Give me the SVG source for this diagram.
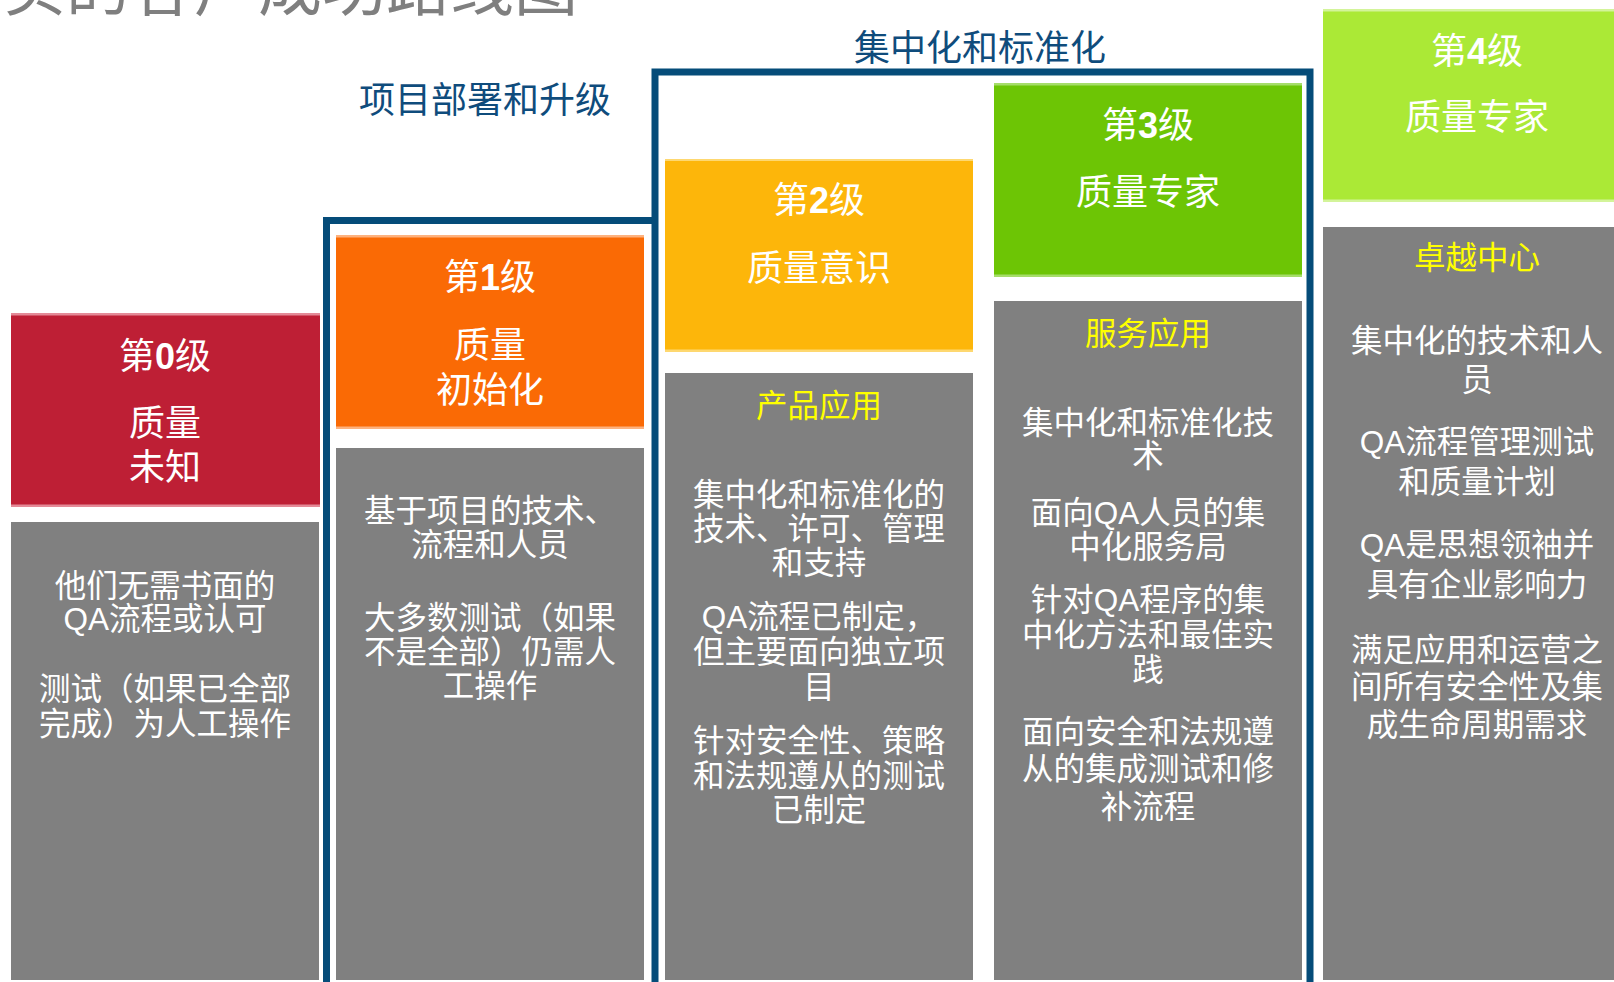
<svg xmlns="http://www.w3.org/2000/svg" width="1614" height="982" viewBox="0 0 1614 982">
<style>
text{font-family:"Liberation Sans","Noto Sans CJK SC",sans-serif;}
.title{font-size:64px;fill:#7f7f7f;}
.phase{font-size:36px;fill:#0f4c7c;text-anchor:middle;}
.lvl{font-size:36px;fill:#ffffff;text-anchor:middle;}
.lvl tspan.d{font-weight:bold;}
.body{font-size:31.5px;fill:#ffffff;text-anchor:middle;}
.hd{font-size:31.5px;fill:#ffff00;text-anchor:middle;}
.gray{fill:#808080;}
.frame{fill:none;stroke:#054c79;stroke-width:7;}
</style>
<rect width="1614" height="982" fill="#ffffff"/>
<text class="title" x="2" y="10">实的客户成功路线图</text>
<text class="phase" x="485" y="112.7">项目部署和升级</text>
<text class="phase" x="980" y="60.7">集中化和标准化</text>

<g id="connectors">
<path class="frame" d="M326.5 982 V220.5 H655"/>
<path class="frame" d="M655 982 V72 H1310 V982"/>
</g>

<g id="level0">
<rect x="11" y="313" width="309" height="194" fill="#be1f35"/>
<rect x="11" y="313" width="309" height="2.5" fill="#e48a97"/>
<rect x="11" y="504.5" width="309" height="2.5" fill="#e48a97"/>
<text class="lvl" x="165" y="368.7">第<tspan class="d">0</tspan>级</text>
<text class="lvl" x="165" y="435.7">质量</text>
<text class="lvl" x="165" y="479.7">未知</text>
</g>
<g id="desc0">
<rect class="gray" x="11" y="522" width="308" height="458"/>
<text class="body" x="165" y="597">他们无需书面的</text>
<text class="body" x="165" y="630">QA流程或认可</text>
<text class="body" x="165" y="700">测试（如果已全部</text>
<text class="body" x="165" y="735">完成）为人工操作</text>
</g>

<g id="level1">
<rect x="336" y="235" width="308" height="194" fill="#fa6a05"/>
<rect x="336" y="235" width="308" height="2.5" fill="#fdb27f"/>
<rect x="336" y="426.5" width="308" height="2.5" fill="#fdb27f"/>
<text class="lvl" x="490" y="289.7">第<tspan class="d">1</tspan>级</text>
<text class="lvl" x="490" y="357.7">质量</text>
<text class="lvl" x="490" y="402.7">初始化</text>
</g>
<g id="desc1">
<rect class="gray" x="336" y="448" width="308" height="532"/>
<text class="body" x="490" y="522">基于项目的技术、</text>
<text class="body" x="490" y="555.5">流程和人员</text>
<text class="body" x="490" y="629">大多数测试（如果</text>
<text class="body" x="490" y="663">不是全部）仍需人</text>
<text class="body" x="490" y="697">工操作</text>
</g>

<g id="level2">
<rect x="665" y="159" width="308" height="193" fill="#fdb60a"/>
<rect x="665" y="159" width="308" height="2" fill="#fed870"/>
<rect x="665" y="349.5" width="308" height="2.5" fill="#fed870"/>
<text class="lvl" x="819" y="212.7">第<tspan class="d">2</tspan>级</text>
<text class="lvl" x="819" y="280.7">质量意识</text>
</g>
<g id="desc2">
<rect class="gray" x="665" y="373" width="308" height="607"/>
<text class="hd" x="819" y="416.5">产品应用</text>
<text class="body" x="819" y="506">集中化和标准化的</text>
<text class="body" x="819" y="540">技术、许可、管理</text>
<text class="body" x="819" y="574">和支持</text>
<text class="body" x="819" y="627.5">QA流程已制定，</text>
<text class="body" x="819" y="662.5">但主要面向独立项</text>
<text class="body" x="819" y="697.5">目</text>
<text class="body" x="819" y="752">针对安全性、策略</text>
<text class="body" x="819" y="787">和法规遵从的测试</text>
<text class="body" x="819" y="821">已制定</text>
</g>

<g id="level3">
<rect x="994" y="83" width="308" height="194" fill="#6dc505"/>
<rect x="994" y="83" width="308" height="2.5" fill="#a6dd6a"/>
<rect x="994" y="274.5" width="308" height="2.5" fill="#a6dd6a"/>
<text class="lvl" x="1148" y="137.7">第<tspan class="d">3</tspan>级</text>
<text class="lvl" x="1148" y="204.7">质量专家</text>
</g>
<g id="desc3">
<rect class="gray" x="994" y="301" width="308" height="679"/>
<text class="hd" x="1148" y="344.5">服务应用</text>
<text class="body" x="1148" y="434">集中化和标准化技</text>
<text class="body" x="1148" y="467">术</text>
<text class="body" x="1148" y="523.5">面向QA人员的集</text>
<text class="body" x="1148" y="557.5">中化服务局</text>
<text class="body" x="1148" y="611">针对QA程序的集</text>
<text class="body" x="1148" y="646">中化方法和最佳实</text>
<text class="body" x="1148" y="681">践</text>
<text class="body" x="1148" y="743">面向安全和法规遵</text>
<text class="body" x="1148" y="780">从的集成测试和修</text>
<text class="body" x="1148" y="818">补流程</text>
</g>

<g id="level4">
<rect x="1323" y="9" width="308" height="193" fill="#abe936"/>
<rect x="1323" y="9" width="308" height="2.5" fill="#d3f49a"/>
<rect x="1323" y="199.5" width="308" height="2.5" fill="#d3f49a"/>
<text class="lvl" x="1477" y="63.7">第<tspan class="d">4</tspan>级</text>
<text class="lvl" x="1477" y="129.7">质量专家</text>
</g>
<g id="desc4">
<rect class="gray" x="1323" y="227" width="308" height="753"/>
<text class="hd" x="1477" y="269">卓越中心</text>
<text class="body" x="1477" y="352">集中化的技术和人</text>
<text class="body" x="1477" y="391">员</text>
<text class="body" x="1477" y="452.5">QA流程管理测试</text>
<text class="body" x="1477" y="493">和质量计划</text>
<text class="body" x="1477" y="555.5">QA是思想领袖并</text>
<text class="body" x="1477" y="595.6">具有企业影响力</text>
<text class="body" x="1477" y="660.5">满足应用和运营之</text>
<text class="body" x="1477" y="697.5">间所有安全性及集</text>
<text class="body" x="1477" y="735.6">成生命周期需求</text>
</g>
</svg>
